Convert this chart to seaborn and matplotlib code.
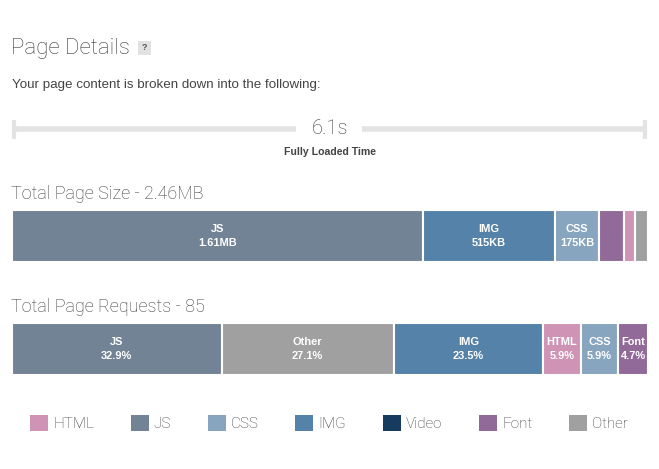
import matplotlib.pyplot as plt
import seaborn as sns
from matplotlib.patches import Patch, Rectangle

# data
size_types = ['JS', 'IMG', 'CSS', 'Font', 'HTML', 'Other']
size_kb = [1610, 515, 175, 95, 45, 50]
size_total = '2.46MB'

req_types = ['JS', 'Other', 'IMG', 'HTML', 'CSS', 'Font']
req_counts = [28, 23, 20, 5, 5, 4]

load_time = '6.1s'

legend_types = ['HTML', 'JS', 'CSS', 'IMG', 'Video', 'Font', 'Other']
colors = {'HTML': '#cf93b6', 'JS': '#728396', 'CSS': '#87a5be', 'IMG': '#5582a8',
          'Video': '#173b5f', 'Font': '#916a9a', 'Other': '#a0a0a0'}

sns.set_theme(style='white')
plt.rcParams['font.family'] = ['Liberation Sans', 'DejaVu Sans']

W, H = 659, 469
fig = plt.figure(figsize=(W / 100, H / 100), dpi=100)

# pixel-space axes for the header decorations
deco = fig.add_axes([0, 0, 1, 1])
deco.set_xlim(0, W)
deco.set_ylim(H, 0)
deco.axis('off')

title_font = dict(family=['Roboto', 'DejaVu Sans'], weight='light', color='#3c3c3c')
deco.text(11, 48.5, 'Page Details', fontsize=16, va='center', ha='left', **title_font)
deco.add_patch(Rectangle((138, 41), 13, 14, color='#e2e2e2', lw=0))
deco.text(144.5, 48, '?', fontsize=6.5, ha='center', va='center', color='#555555', weight='bold')
deco.text(12, 85, 'Your page content is broken down into the following:', fontsize=9.6,
          va='center', ha='left', color='#444444')

# fully loaded time line
grey = '#e3e3e3'
deco.plot([12, 296], [129, 129], color=grey, lw=4, solid_capstyle='butt')
deco.plot([362, 647], [129, 129], color=grey, lw=4, solid_capstyle='butt')
deco.plot([14, 14], [120, 139], color=grey, lw=3, solid_capstyle='butt')
deco.plot([645, 645], [120, 139], color=grey, lw=3, solid_capstyle='butt')
deco.text(330, 129, load_time, fontsize=14.5, ha='center', va='center', **title_font)
deco.text(330, 152, 'Fully Loaded Time', fontsize=7.6, ha='center', va='center',
          color='#444444', weight='bold')

deco.text(11, 194, f'Total Page Size - {size_total}', fontsize=13, va='center', ha='left', **title_font)
deco.text(11, 307, f'Total Page Requests - {sum(req_counts)}', fontsize=13, va='center', ha='left',
          **title_font)


def stacked_bar(rect, types, values, labels):
    ax = fig.add_axes(rect)
    total = sum(values)
    left = 0
    for t, v, lab in zip(types, values, labels):
        ax.barh(0, v, left=left, height=1, color=colors[t], edgecolor='white', linewidth=1.5)
        if v / total > 0.04:
            ax.text(left + v / 2, 0, f'{t}\n{lab}', ha='center', va='center', color='white',
                    fontsize=7.9, weight='bold', linespacing=1.55)
        left += v
    ax.set_xlim(0, total)
    ax.set_ylim(-0.5, 0.5)
    ax.axis('off')
    return ax


size_labels = [f'{v / 1000:.2f}MB' if v >= 1000 else f'{v}KB' for v in size_kb]
stacked_bar([12 / W, 1 - 262 / H, 636 / W, 52 / H], size_types, size_kb, size_labels)

req_labels = [f'{100 * c / sum(req_counts):.1f}%' for c in req_counts]
stacked_bar([12 / W, 1 - 375 / H, 636 / W, 52 / H], req_types, req_counts, req_labels)

handles = [Patch(facecolor=colors[t], edgecolor='none', label=t) for t in legend_types]
leg = fig.legend(handles=handles, loc='center left', bbox_to_anchor=(30 / W, 1 - 423 / H),
                 ncol=7, frameon=False, handlelength=1.18, handleheight=1.18, handletextpad=0.33,
                 columnspacing=2.4, borderpad=0, borderaxespad=0,
                 prop=dict(family=['Roboto', 'DejaVu Sans'], weight='light', size=11))
for txt in leg.get_texts():
    txt.set_color('#3c3c3c')

fig.savefig('out.png', dpi=100)
